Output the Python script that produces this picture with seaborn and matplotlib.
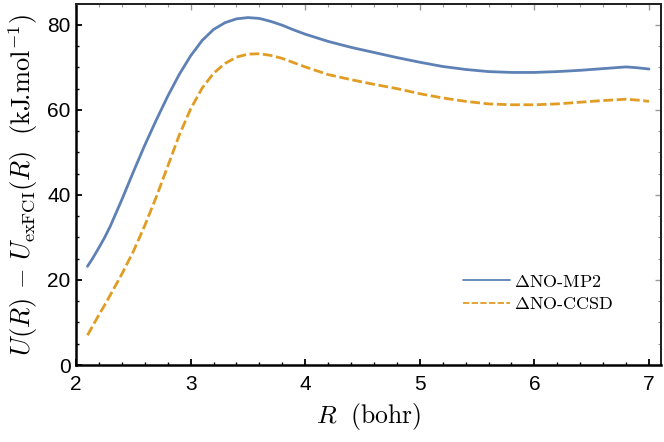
import matplotlib
matplotlib.use("Agg")
import matplotlib.pyplot as plt
from matplotlib.ticker import MultipleLocator
import seaborn as sns
import pandas as pd

# bond length (bohr)
r_bohr = [2.1, 2.15, 2.2, 2.25, 2.3, 2.4, 2.5, 2.6, 2.7, 2.8, 2.9, 3.0, 3.1, 3.2,
          3.3, 3.4, 3.5, 3.6, 3.7, 3.8, 3.9, 4.0, 4.2, 4.4, 4.6, 4.8, 5.0, 5.2,
          5.4, 5.6, 5.8, 6.0, 6.2, 6.4, 6.6, 6.8, 6.9, 7.0]

# U(R) - U_exFCI(R) in kJ/mol
mp2 = [23.2, 25.3, 27.6, 30.0, 32.7, 38.9, 45.4, 51.7, 57.6, 63.2, 68.3, 72.7,
       76.3, 78.9, 80.5, 81.4, 81.7, 81.5, 80.8, 79.9, 78.8, 77.8, 76.1, 74.7,
       73.5, 72.3, 71.2, 70.2, 69.5, 69.0, 68.8, 68.8, 69.0, 69.3, 69.7, 70.1,
       69.9, 69.6]
ccsd = [7.0, 9.4, 11.8, 14.1, 16.5, 21.4, 26.7, 32.8, 39.5, 46.7, 54.0, 60.2,
        65.1, 68.6, 70.9, 72.4, 73.1, 73.2, 72.8, 72.1, 71.1, 70.1, 68.3, 67.1,
        66.0, 65.0, 63.8, 62.8, 62.0, 61.4, 61.2, 61.2, 61.4, 61.8, 62.2, 62.5,
        62.3, 62.0]

methods = [r"$\Delta$NO-MP2", r"$\Delta$NO-CCSD"]

df = pd.DataFrame({
    "R": r_bohr * 2,
    "U": mp2 + ccsd,
    "method": [methods[0]] * len(r_bohr) + [methods[1]] * len(r_bohr),
})

sns.set_style("white")
plt.rcParams["font.family"] = ["Liberation Sans", "DejaVu Sans"]
plt.rcParams["mathtext.fontset"] = "cm"
plt.rcParams["text.color"] = "black"
plt.rcParams["axes.labelcolor"] = "black"

blue = (0.368417, 0.506779, 0.709798)
orange = (0.880722, 0.611041, 0.142051)

fig = plt.figure(figsize=(6.64, 4.42), dpi=100)
ax = fig.add_axes([0.1145, 0.1742, 0.881, 0.8168])

sns.lineplot(data=df, x="R", y="U", hue="method", style="method",
             palette={methods[0]: blue, methods[1]: orange},
             dashes={methods[0]: "", methods[1]: (3.5, 1.3)},
             linewidth=2.0, ax=ax)

ax.set_xlim(2, 7.105)
ax.set_ylim(0, 84.9)
ax.xaxis.set_major_locator(MultipleLocator(1))
ax.xaxis.set_minor_locator(MultipleLocator(0.2))
ax.yaxis.set_major_locator(MultipleLocator(20))
ax.yaxis.set_minor_locator(MultipleLocator(5))

for s in ["left", "bottom"]:
    ax.spines[s].set_linewidth(1.8)
    ax.spines[s].set_color("black")
for s in ["top", "right"]:
    ax.spines[s].set_linewidth(1.4)
    ax.spines[s].set_color("#222222")

ax.tick_params(which="both", direction="in", labelsize=15, color="black",
               labelcolor="black", bottom=True, left=True, top=False, right=False)
ax.tick_params(which="major", length=4.5, width=1.3)
ax.tick_params(which="minor", length=2.5, width=1.0)
ax.tick_params(axis="x", pad=7)
ax.tick_params(axis="y", pad=4)

# grey ticks on the opposite frame edges
top = ax.secondary_xaxis("top")
top.xaxis.set_major_locator(MultipleLocator(1))
top.xaxis.set_minor_locator(MultipleLocator(0.2))
top.tick_params(which="both", direction="in", top=True, labeltop=False, color="#999999")
top.tick_params(which="major", length=4.5, width=1.0)
top.tick_params(which="minor", length=2.5, width=0.8)
top.spines["top"].set_linewidth(1.4)
right = ax.secondary_yaxis("right")
right.yaxis.set_major_locator(MultipleLocator(20))
right.yaxis.set_minor_locator(MultipleLocator(5))
right.tick_params(which="both", direction="in", right=True, labelright=False, color="#999999")
right.tick_params(which="major", length=4.5, width=1.0)
right.tick_params(which="minor", length=2.5, width=0.8)
right.spines["right"].set_linewidth(1.4)

ax.set_xlabel(r"$R\ \ \mathrm{(bohr)}$", fontsize=18.5, labelpad=5)
ax.set_ylabel(r"$U(R)\,-\,U_{\mathrm{exFCI}}(R)\ \ \mathrm{(kJ\!.\!mol^{-1})}$",
              fontsize=19, labelpad=5)

handles, labels = ax.get_legend_handles_labels()
leg = ax.legend(handles, labels, loc="center left", bbox_to_anchor=(0.65, 0.2),
                frameon=False, fontsize=13, handlelength=2.6, handletextpad=0.2,
                labelspacing=0.35, borderaxespad=0)
for line in leg.get_lines():
    line.set_linewidth(1.3)
for txt in leg.get_texts():
    txt.set_fontfamily("cmr10")

fig.savefig("out.png", dpi=100)
